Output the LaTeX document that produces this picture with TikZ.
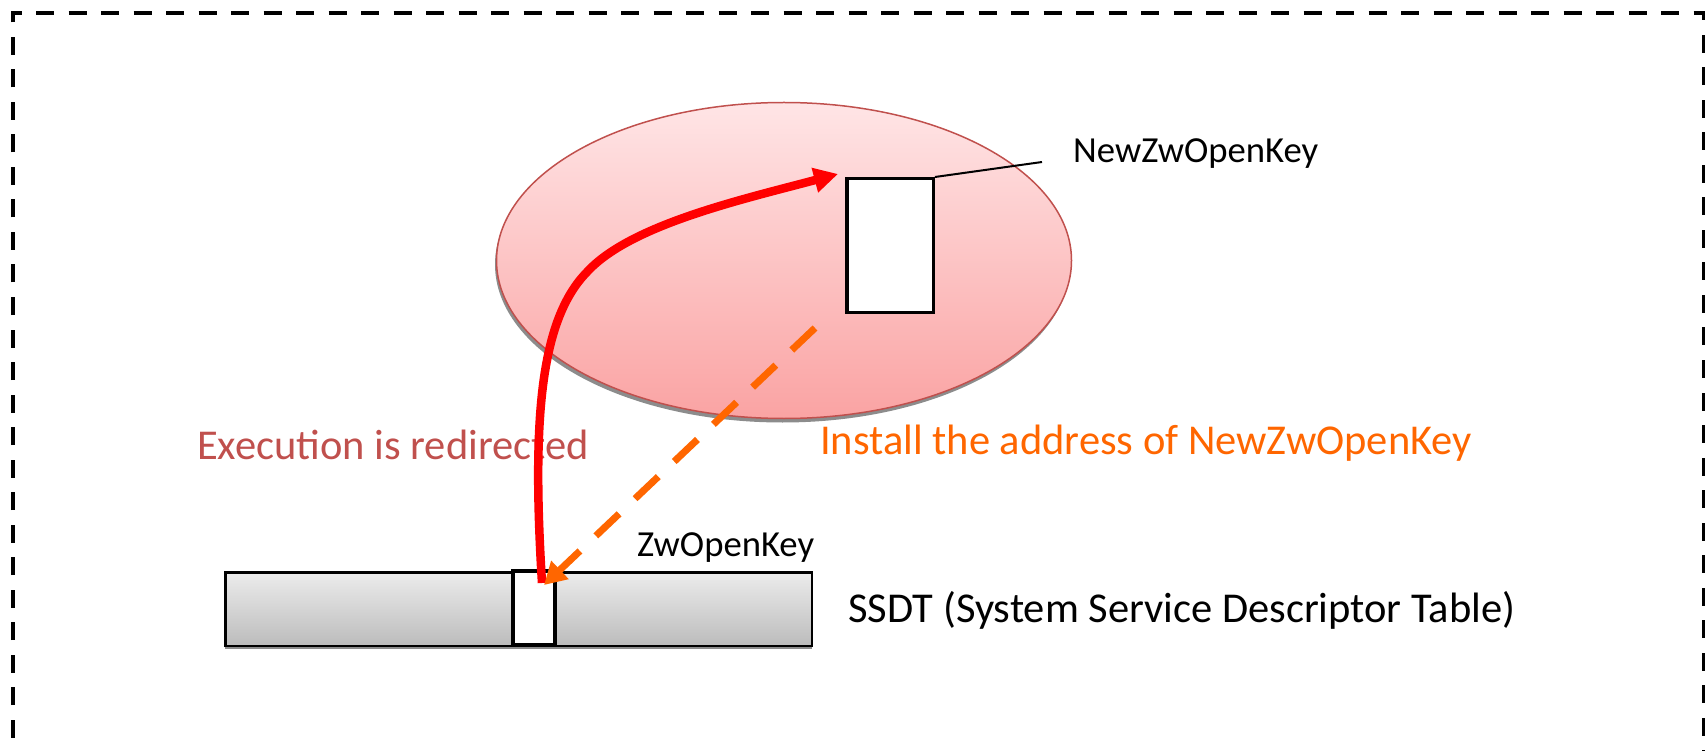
\documentclass[tikz,border=0pt]{standalone}
\usepackage{fontspec}
\setmainfont{Carlito}
\usetikzlibrary{shapes.geometric,shadows,arrows.meta}
\definecolor{exred}{RGB}{192,80,77}
\definecolor{instor}{RGB}{255,102,0}
\definecolor{pinktop}{RGB}{255,229,230}
\definecolor{pinkbot}{RGB}{250,163,163}
\definecolor{bartop}{RGB}{236,236,236}
\definecolor{barbot}{RGB}{188,188,188}
\begin{document}
\begin{tikzpicture}[x=1pt,y=-1pt,
  smalltxt/.style={font=\fontsize{36.7}{44}\selectfont, inner sep=0pt, anchor=base west},
  bigtxt/.style={font=\fontsize{42.5}{50}\selectfont, inner sep=0pt, anchor=base west},
  slotbox/.style={draw, fill=white, inner sep=0pt},
  frameline/.style={line width=4pt, dash pattern=on 18pt off 14.5pt},
  greyshadow/.style={drop shadow={shadow xshift=-1.5pt, shadow yshift=-4pt, fill=black!45, opacity=1}}
]
\useasboundingbox (0,0) rectangle (1705,751);
\begin{scope}
  \clip (0,0) rectangle (1705,751);
  \draw[frameline] (13,770) -- (13,13) -- (1704,13) -- (1704,770);
\end{scope}

% process ellipse
\node[ellipse, draw=exred, line width=1.5pt, minimum width=575pt, minimum height=316pt,
      inner sep=0pt, top color=pinktop, bottom color=pinkbot, greyshadow] (proc) at (784,260.5) {};
\node[slotbox, line width=3.5pt, minimum width=86.5pt, minimum height=133.5pt] (newrect) at (890,245.5) {};

% SSDT bar
\node[draw, line width=2.5pt, top color=bartop, bottom color=barbot, minimum width=586.5pt,
      minimum height=73.5pt, inner sep=0pt,
      drop shadow={shadow xshift=0pt, shadow yshift=-3.5pt, fill=black!45, opacity=1}] (ssdt) at (518.5,609) {};
\node[slotbox, line width=4pt, minimum width=42pt, minimum height=74pt] (zwslot) at (534,608) {};

% labels
\node[smalltxt] (lblnew) at (1073,163) {NewZwOpenKey};
\node[bigtxt, text=exred] (lblexec) at (197,459) {Execution is redirected};
\node[bigtxt, text=instor] (lblinst) at (820,454) {Install the address of NewZwOpenKey};
\node[smalltxt] (lblzw) at (637,556) {ZwOpenKey};
\node[bigtxt] (lblssdt) at (848,622) {SSDT (System Service Descriptor Table)};

% connectors
\coordinate (leadend) at (1042,162);
\draw[line width=2pt] (newrect.north east) -- (leadend);

\coordinate (redstart) at (542,583);
\coordinate (redmid) at (587,272);
\coordinate (redtip) at (838,174);
\draw[red, line width=8.5pt, -{Triangle[length=24pt,width=24pt]}]
  (redstart) .. controls (532,420) and (540,320) .. (redmid)
  .. controls (630,225) and (740,200) .. (redtip);

\coordinate (orstart) at (815,328);
\coordinate (ortip) at (544,585);
\draw[instor, line width=7pt, dash pattern=on 32pt off 22pt, -{Triangle[length=22pt,width=24pt]}]
  (orstart) -- (ortip);
\end{tikzpicture}
\end{document}
